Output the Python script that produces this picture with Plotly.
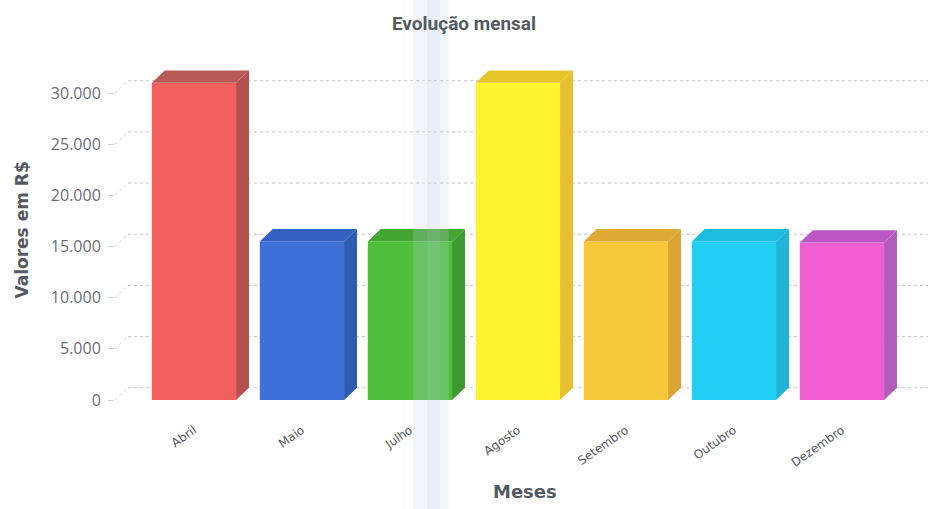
import plotly.graph_objects as go

# Monthly totals (R$)
months = ["Abril", "Maio", "Julho", "Agosto", "Setembro", "Outubro", "Dezembro"]
values = [31000, 15500, 15500, 31000, 15500, 15500, 15400]
y_ticks = [0, 5000, 10000, 15000, 20000, 25000, 30000]

# Face colours: front, side, top
front_colors = ["#f2605e", "#3d70d8", "#4fbf3b", "#fff22e", "#f8c83c", "#22cff4", "#f05ed2"]
side_colors = ["#b4504e", "#2e5cb2", "#3c9a2e", "#e6c02e", "#dca432", "#1fb4d8", "#b25cbc"]
top_colors = ["#b85a55", "#3360c2", "#43a631", "#e4c62a", "#dea935", "#1dbbe0", "#bc56c2"]

# Geometry of the pseudo-3D box
BAR_W = 0.78
DX = 0.12      # depth in category units
DY = 1200      # depth in value units
X_MIN, X_MAX = -0.731, 6.797
Y_MAX = 33225

fig = go.Figure()

# Front faces
fig.add_trace(go.Bar(
    x=list(range(len(months))), y=values, width=BAR_W,
    marker=dict(color=front_colors, line=dict(width=0)),
    hoverinfo="skip", showlegend=False,
))

# Side and top faces built from the same values
for i, v in enumerate(values):
    x0, x1 = i - BAR_W / 2, i + BAR_W / 2
    fig.add_trace(go.Scatter(
        x=[x1, x1 + DX, x1 + DX, x1, x1], y=[0, DY, v + DY, v, 0],
        mode="lines", fill="toself", fillcolor=side_colors[i],
        line=dict(width=0, color=side_colors[i]),
        hoverinfo="skip", showlegend=False,
    ))
    fig.add_trace(go.Scatter(
        x=[x0, x0 + DX, x1 + DX, x1, x0], y=[v, v + DY, v + DY, v, v],
        mode="lines", fill="toself", fillcolor=top_colors[i],
        line=dict(width=0, color=top_colors[i]),
        hoverinfo="skip", showlegend=False,
    ))

# Dotted grid on the back wall plus the short wall connectors
shapes = []
for t in y_ticks:
    shapes.append(dict(type="line", xref="x", yref="y", layer="below",
                       x0=X_MIN + DX, x1=X_MAX, y0=t + DY, y1=t + DY,
                       line=dict(color="#c0c4cb", width=1, dash="dot")))
    shapes.append(dict(type="line", xref="x", yref="y", layer="below",
                       x0=X_MIN, x1=X_MIN + DX, y0=t, y1=t + DY,
                       line=dict(color="#d0d3d8", width=1, dash="dot")))

# Pale vertical highlight band across the chart
span = X_MAX - X_MIN
band_x0, band_x1 = (2.03 - X_MIN) / span, (2.36 - X_MIN) / span
core_x0, core_x1 = (2.16 - X_MIN) / span, (2.28 - X_MIN) / span
shapes.append(dict(type="rect", xref="paper", yref="paper", layer="above",
                   x0=band_x0, x1=band_x1, y0=-0.35, y1=1.2,
                   fillcolor="rgba(195,214,238,0.22)", line=dict(width=0)))
shapes.append(dict(type="rect", xref="paper", yref="paper", layer="above",
                   x0=core_x0, x1=core_x1, y0=-0.35, y1=1.2,
                   fillcolor="rgba(175,198,228,0.14)", line=dict(width=0)))

fig.update_layout(
    width=928, height=509,
    margin=dict(l=115, r=0, t=60, b=109),
    paper_bgcolor="white", plot_bgcolor="white",
    separators=",.",
    shapes=shapes,
    title=dict(text="<b>Evolução mensal</b>", x=0.5, xanchor="center",
               y=0.955, yanchor="middle",
               font=dict(family="Roboto, sans-serif", size=19, color="#555a60")),
    xaxis=dict(range=[X_MIN, X_MAX], tickmode="array",
               tickvals=list(range(len(months))), ticktext=months,
               tickangle=-35, showgrid=False, zeroline=False, showline=False,
               ticks="", ticklabelstandoff=20,
               tickfont=dict(family="DejaVu Sans", size=12, color="#555a60")),
    yaxis=dict(range=[0, Y_MAX], tickmode="array", tickvals=y_ticks,
               tickformat=",d", showgrid=False, zeroline=False, showline=False,
               ticks="outside", ticklen=6, tickcolor="#d0d3d8",
               ticklabelstandoff=4,
               tickfont=dict(family="Open Sans", size=16, color="#6a6e74")),
    annotations=[
        dict(text="<b>Valores em R$</b>", xref="paper", yref="paper",
             x=-0.115, y=0.5, textangle=-90, showarrow=False,
             xanchor="center", yanchor="middle",
             font=dict(family="DejaVu Sans", size=17, color="#555a60")),
        dict(text="<b>Meses</b>", xref="paper", yref="paper",
             x=0.504, y=-0.27, showarrow=False,
             xanchor="center", yanchor="middle",
             font=dict(family="DejaVu Sans", size=18, color="#555a60")),
    ],
)

fig.write_html("out.html")
